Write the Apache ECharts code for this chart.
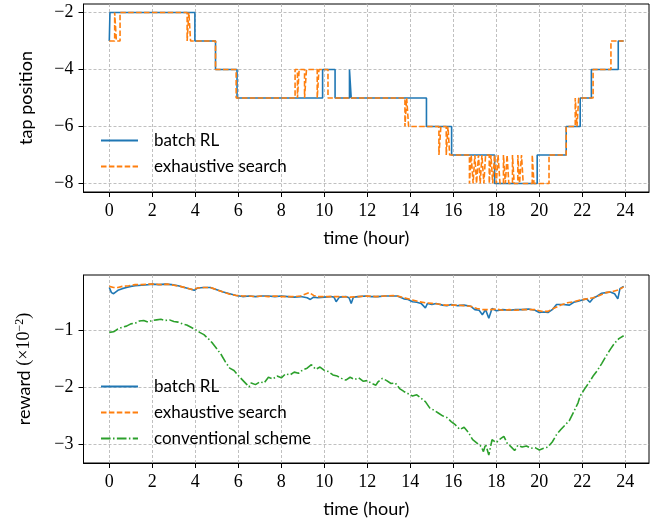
<!DOCTYPE html>
<html>
<head>
<meta charset="utf-8">
<script src="https://cdn.jsdelivr.net/npm/echarts@6/dist/echarts.min.js"></script>
<style>
  html, body { margin: 0; padding: 0; background: #fff; }
  #main { width: 659px; height: 524px; }
</style>
</head>
<body>
<div id="main"></div>
<script>
const hourTicks = [0, 2, 4, 6, 8, 10, 12, 14, 16, 18, 20, 22, 24];
const tapTicks = [-8, -6, -4, -2];
const rewardTicks = [-3, -2, -1];

// tap position, change points [hour, tap] (held until the next point)
const tapBatchRL = [
  [0, -3], [0.03, -2], [3.98, -3], [4.94, -4], [5.94, -5], [9.92, -4], [10.5, -5],
  [11.17, -4], [11.25, -5], [14.75, -6], [15.92, -7], [17.92, -8], [19.9, -7],
  [21.25, -6], [21.9, -5], [22.42, -4], [23.67, -3], [23.92, -3]
];
const tapExhaustive = [
  [0, -3], [0.25, -2], [0.33, -3], [0.5, -2],
  [3.62, -3], [3.7, -2], [3.78, -3],
  [4.94, -4], [5.9, -5],
  [8.64, -4], [8.75, -5], [8.83, -4], [9.08, -5], [9.17, -4], [9.67, -5], [9.75, -4], [10.17, -5],
  [13.75, -6], [13.83, -5], [13.92, -6],
  [15.33, -7], [15.42, -6], [15.67, -7], [15.75, -6], [15.83, -7],
  [16.75, -8], [16.83, -7], [16.92, -8], [17.0, -7], [17.08, -8], [17.17, -7], [17.25, -8],
  [17.33, -7], [17.42, -8], [17.5, -7], [17.67, -8], [17.75, -7], [17.83, -8], [17.92, -7],
  [18.0, -8], [18.08, -7], [18.17, -8], [18.33, -7], [18.42, -8], [18.5, -7], [18.58, -8],
  [18.75, -7], [18.83, -8], [19.0, -7], [19.08, -8], [19.17, -7], [19.25, -8],
  [19.67, -7], [19.75, -8], [20.45, -7],
  [21.25, -6], [21.67, -5], [21.75, -6], [21.83, -5],
  [22.5, -4], [23.33, -3], [23.92, -3]
];

// reward (x 1e-2), samples [hour, reward]
const rewardBatchRL = [
  [0.0, -0.24], [0.1, -0.33], [0.2, -0.35], [0.4, -0.29], [0.6, -0.26], [0.8, -0.24], [1.0, -0.22],
  [1.2, -0.21], [1.5, -0.2], [1.8, -0.19], [2.0, -0.18], [2.3, -0.19], [2.6, -0.18], [2.9, -0.19],
  [3.2, -0.21], [3.5, -0.24], [3.8, -0.27], [3.95, -0.29], [4.1, -0.25], [4.4, -0.24], [4.7, -0.24],
  [5.0, -0.28], [5.3, -0.32], [5.6, -0.35], [5.9, -0.38], [6.2, -0.4], [6.5, -0.39], [6.8, -0.4],
  [7.1, -0.39], [7.4, -0.39], [7.7, -0.4], [8.0, -0.39], [8.3, -0.4], [8.6, -0.41], [8.9, -0.4],
  [9.2, -0.42], [9.35, -0.45], [9.5, -0.41], [9.7, -0.42], [10.0, -0.41], [10.3, -0.4], [10.45, -0.41],
  [10.55, -0.49], [10.7, -0.41], [11.0, -0.4], [11.15, -0.42], [11.25, -0.52], [11.35, -0.41],
  [11.6, -0.4], [11.9, -0.39], [12.2, -0.4], [12.5, -0.4], [12.8, -0.39], [13.1, -0.39], [13.4, -0.39],
  [13.7, -0.44], [13.9, -0.45], [14.1, -0.49], [14.3, -0.5], [14.5, -0.52], [14.6, -0.56], [14.7, -0.6],
  [14.8, -0.52], [15.0, -0.54], [15.2, -0.52], [15.5, -0.55], [15.7, -0.56], [15.9, -0.54], [16.2, -0.56],
  [16.5, -0.55], [16.8, -0.57], [17.0, -0.63], [17.2, -0.64], [17.35, -0.72], [17.5, -0.63], [17.65, -0.78],
  [17.8, -0.61], [18.0, -0.65], [18.3, -0.63], [18.6, -0.64], [18.9, -0.63], [19.2, -0.63], [19.5, -0.62],
  [19.8, -0.64], [20.0, -0.68], [20.2, -0.67], [20.4, -0.68], [20.6, -0.63], [20.8, -0.54], [21.1, -0.54],
  [21.4, -0.55], [21.6, -0.5], [21.8, -0.48], [22.0, -0.46], [22.2, -0.44], [22.35, -0.5], [22.5, -0.43],
  [22.7, -0.39], [22.9, -0.34], [23.1, -0.33], [23.3, -0.32], [23.5, -0.35], [23.65, -0.44], [23.75, -0.26],
  [23.92, -0.22]
];
const rewardExhaustive = [
  [0.0, -0.22], [0.2, -0.24], [0.4, -0.24], [0.6, -0.22], [0.9, -0.21], [1.2, -0.19], [1.5, -0.19],
  [1.8, -0.18], [2.1, -0.18], [2.4, -0.19], [2.7, -0.18], [3.0, -0.2], [3.3, -0.22], [3.6, -0.25],
  [3.9, -0.28], [4.1, -0.25], [4.4, -0.24], [4.7, -0.24], [5.0, -0.28], [5.3, -0.32], [5.6, -0.36],
  [5.9, -0.38], [6.2, -0.39], [6.5, -0.39], [6.8, -0.4], [7.1, -0.39], [7.4, -0.4], [7.7, -0.39],
  [8.0, -0.4], [8.3, -0.4], [8.6, -0.4], [8.9, -0.39], [9.1, -0.36], [9.3, -0.33], [9.5, -0.38],
  [9.7, -0.4], [10.0, -0.4], [10.4, -0.4], [10.8, -0.4], [11.2, -0.41], [11.6, -0.4], [12.0, -0.39],
  [12.4, -0.4], [12.8, -0.39], [13.2, -0.38], [13.5, -0.4], [13.8, -0.43], [14.1, -0.46], [14.4, -0.49],
  [14.7, -0.51], [15.0, -0.52], [15.3, -0.53], [15.6, -0.55], [15.9, -0.55], [16.2, -0.55], [16.5, -0.56],
  [16.8, -0.57], [17.1, -0.61], [17.4, -0.63], [17.7, -0.63], [18.0, -0.62], [18.3, -0.64], [18.6, -0.63],
  [18.9, -0.64], [19.2, -0.63], [19.5, -0.63], [19.8, -0.63], [20.1, -0.66], [20.4, -0.66], [20.7, -0.6],
  [21.0, -0.55], [21.3, -0.51], [21.6, -0.49], [21.9, -0.46], [22.2, -0.44], [22.5, -0.42], [22.8, -0.38],
  [23.1, -0.33], [23.4, -0.31], [23.7, -0.28], [23.92, -0.23]
];
const rewardConventional = [
  [0.0, -1.03], [0.2, -1.02], [0.4, -0.97], [0.6, -0.94], [0.8, -0.92], [1.0, -0.88], [1.2, -0.87],
  [1.4, -0.83], [1.6, -0.82], [1.8, -0.85], [2.0, -0.82], [2.2, -0.81], [2.4, -0.8], [2.6, -0.82],
  [2.8, -0.81], [3.0, -0.84], [3.2, -0.85], [3.4, -0.88], [3.6, -0.9], [3.8, -0.94], [4.0, -0.98],
  [4.2, -1.03], [4.4, -1.07], [4.6, -1.14], [4.8, -1.22], [5.0, -1.32], [5.2, -1.42], [5.4, -1.55],
  [5.6, -1.66], [5.8, -1.7], [6.0, -1.79], [6.2, -1.87], [6.4, -1.95], [6.5, -1.99], [6.6, -1.92],
  [6.8, -1.95], [7.0, -1.9], [7.2, -1.92], [7.4, -1.82], [7.6, -1.85], [7.8, -1.8], [8.0, -1.83],
  [8.2, -1.76], [8.4, -1.78], [8.6, -1.73], [8.8, -1.75], [9.0, -1.69], [9.2, -1.66], [9.4, -1.6],
  [9.6, -1.68], [9.8, -1.64], [10.0, -1.7], [10.2, -1.72], [10.4, -1.78], [10.6, -1.8], [10.8, -1.84],
  [11.0, -1.87], [11.2, -1.82], [11.4, -1.86], [11.6, -1.83], [11.8, -1.89], [12.0, -1.88], [12.2, -1.93],
  [12.4, -1.96], [12.5, -1.9], [12.7, -1.84], [12.9, -1.88], [13.1, -1.93], [13.3, -1.92], [13.5, -2.02],
  [13.7, -2.07], [13.9, -2.11], [14.1, -2.15], [14.3, -2.13], [14.5, -2.19], [14.7, -2.25], [14.9, -2.36],
  [15.1, -2.4], [15.3, -2.45], [15.5, -2.5], [15.7, -2.53], [15.9, -2.6], [16.1, -2.66], [16.3, -2.74],
  [16.5, -2.7], [16.7, -2.79], [16.9, -2.92], [17.1, -2.98], [17.3, -3.04], [17.4, -3.13], [17.5, -3.0],
  [17.65, -3.19], [17.8, -2.92], [18.0, -2.97], [18.2, -2.9], [18.35, -2.86], [18.5, -2.98], [18.7, -3.05],
  [18.85, -3.11], [19.0, -3.02], [19.2, -3.05], [19.4, -3.03], [19.6, -3.07], [19.8, -3.06], [20.0, -3.1],
  [20.2, -3.07], [20.4, -3.05], [20.6, -2.96], [20.8, -2.83], [21.0, -2.74], [21.2, -2.66], [21.4, -2.58],
  [21.6, -2.43], [21.8, -2.27], [21.9, -2.15], [22.1, -2.03], [22.3, -1.92], [22.5, -1.8], [22.7, -1.7],
  [22.9, -1.58], [23.1, -1.45], [23.3, -1.33], [23.5, -1.22], [23.7, -1.14], [23.92, -1.09]
];

const blue = '#1f77b4';
const orange = '#ff7f0e';
const green = '#2ca02c';
const serif = '"Liberation Serif", "DejaVu Serif", serif';
const sans = 'Lato, "DejaVu Sans", sans-serif';

function minus(v) {
  return String(v).replace('-', '\u2212');
}

function xAxis(gridIndex) {
  return {
    type: 'value', gridIndex: gridIndex, min: -1.2, max: 25.1,
    name: 'time (hour)', nameLocation: 'middle', nameGap: 37,
    nameTextStyle: { fontFamily: sans, fontSize: 18, color: '#000' },
    axisLine: { show: true, onZero: false, lineStyle: { color: '#000', width: 1 } },
    axisTick: { show: true, length: 5, customValues: hourTicks, lineStyle: { color: '#000' } },
    axisLabel: { customValues: hourTicks, formatter: minus, margin: 10, fontFamily: serif, fontSize: 18, color: '#000' },
    splitLine: { show: true, lineStyle: { color: '#b0b0b0', type: [3, 2], width: 0.8 } }
  };
}

function yAxis(gridIndex, min, max, ticks, name) {
  return {
    type: 'value', gridIndex: gridIndex, min: min, max: max,
    name: name, nameLocation: 'middle', nameGap: 48, nameRotate: 90,
    nameTextStyle: {
      fontFamily: sans, fontSize: 18, color: '#000',
      rich: {
        a: { fontFamily: sans, fontSize: 18, color: '#000' },
        b: { fontFamily: serif, fontSize: 18, color: '#000' },
        c: { fontFamily: serif, fontSize: 12, color: '#000', verticalAlign: 'bottom', padding: [0, 0, 10, 0] }
      }
    },
    axisLine: { show: true, onZero: false, lineStyle: { color: '#000', width: 1 } },
    axisTick: { show: true, length: 5, customValues: ticks, lineStyle: { color: '#000' } },
    axisLabel: { customValues: ticks, formatter: minus, margin: 10, fontFamily: serif, fontSize: 18, color: '#000' },
    splitLine: { show: true, lineStyle: { color: '#b0b0b0', type: [3, 2], width: 0.8 } }
  };
}

function legend(names, top) {
  return {
    data: names, orient: 'vertical', left: 95, top: top,
    itemWidth: 37, itemHeight: 14, itemGap: 9,
    itemStyle: { opacity: 0 },
    textStyle: { fontFamily: sans, fontSize: 17, color: '#000', padding: [0, 0, 0, 11] }
  };
}

function line(name, xi, data, color, type, step) {
  return {
    name: name, type: 'line', xAxisIndex: xi, yAxisIndex: xi, data: data,
    step: step, symbol: 'none', silent: true,
    lineStyle: { color: color, width: 1.6, type: type },
    itemStyle: { color: color }
  };
}

const chart = echarts.init(document.getElementById('main'));
chart.setOption({
  animation: false,
  backgroundColor: '#fff',
  grid: [
    { left: 83.5, top: 4, width: 565.5, height: 188, show: true, borderColor: '#000', borderWidth: 1 },
    { left: 83.5, top: 275, width: 565.5, height: 188, show: true, borderColor: '#000', borderWidth: 1 }
  ],
  xAxis: [xAxis(0), xAxis(1)],
  yAxis: [
    yAxis(0, -8.3, -1.7, tapTicks, 'tap position'),
    yAxis(1, -3.33, -0.02, rewardTicks, '{a|reward }{b|(\u00d710}{c|\u22122}{b|)}')
  ],
  legend: [
    legend(['batch RL', 'exhaustive search'], 127),
    legend(['batch RL', 'exhaustive search', 'conventional scheme'], 373)
  ],
  series: [
    line('batch RL', 0, tapBatchRL, blue, 'solid', 'end'),
    line('exhaustive search', 0, tapExhaustive, orange, [5.5, 2.4], 'end'),
    line('batch RL', 1, rewardBatchRL, blue, 'solid', false),
    line('exhaustive search', 1, rewardExhaustive, orange, [5.5, 2.4], false),
    line('conventional scheme', 1, rewardConventional, green, [9.6, 2.4, 1.5, 2.4], false)
  ]
});
</script>
</body>
</html>
